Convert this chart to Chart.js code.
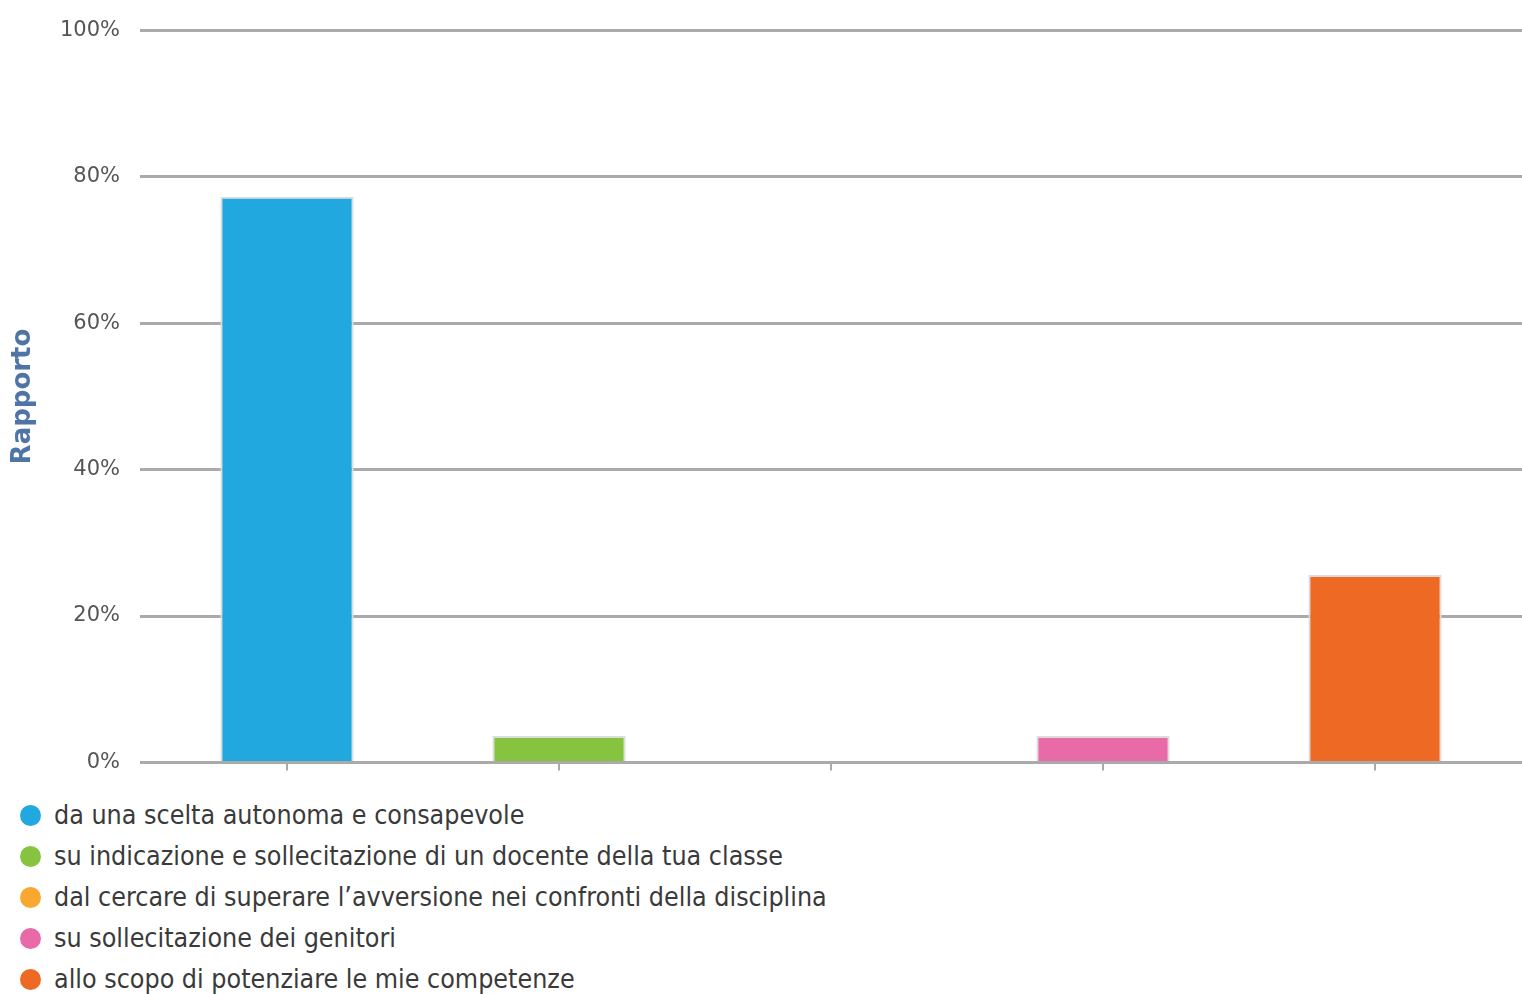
<!DOCTYPE html>
<html>
<head>
<meta charset="utf-8">
<script src="https://cdn.jsdelivr.net/npm/chart.js@4"></script>
<style>
  body { margin: 0; background: #fff; overflow: hidden; }
  #wrap { position: relative; top: -2px; width: 1522px; height: 797px; }
  #legenda { position: absolute; left: 20px; top: 797px; font-family: "DejaVu Sans Condensed", "DejaVu Sans"; font-size: 26.6px; color: #3a3a3a; }
  #legenda div { height: 41px; line-height: 36px; white-space: nowrap; }
  #legenda span.dot { display: inline-block; width: 21px; height: 21px; border-radius: 50%; margin-right: 13px; vertical-align: -2px; }
</style>
</head>
<body>
<div id="wrap"><canvas id="grafico"></canvas></div>
<div id="legenda"></div>
<script>
var categorie = [
  "da una scelta autonoma e consapevole",
  "su indicazione e sollecitazione di un docente della tua classe",
  "dal cercare di superare l\u2019avversione nei confronti della disciplina",
  "su sollecitazione dei genitori",
  "allo scopo di potenziare le mie competenze"
];
var valori = [77.3, 3.6, 0, 3.6, 25.6];
var colori = ["#21a8de", "#86c440", "#f8a830", "#e86aa6", "#ee6a24"];
var tickY = [0, 20, 40, 60, 80, 100];

// prolunga le linee della griglia fino al bordo destro
var estendiGriglia = {
    id: "estendiGriglia",
    beforeDatasetsDraw: function(chart) {
        var c = chart.ctx;
        var y = chart.scales.y;
        var lw = 3;
        c.save();
        c.strokeStyle = "#aaaaaa";
        c.lineWidth = lw;
        tickY.forEach(function(v) {
            // stesso allineamento al pixel usato da Chart.js per la griglia
            var py = Math.round(y.getPixelForValue(v) - lw / 2) + lw / 2;
            c.beginPath();
            c.moveTo(chart.chartArea.right - 1, py);
            c.lineTo(chart.width, py);
            c.stroke();
        });
        c.restore();
    }
};

window.addEventListener("load", function() {

    var ctx = document.getElementById("grafico");

    var grafico = new Chart(ctx, {
        type: 'bar',
        data: {
            labels: categorie,
            datasets: [{
                label: "Rapporto",
                data: valori,
                backgroundColor: colori,
                borderColor: "#dcdcdc",
                borderWidth: 2,
                barPercentage: 0.49,
                categoryPercentage: 1
            }]
        },
        plugins: [estendiGriglia],
        options: {
            responsive: true,
            maintainAspectRatio: false,
            animation: false,
            layout: { padding: { top: 18, right: 11, bottom: 0, left: 0 } },
            plugins: {
                legend: { display: false },
                tooltip: { enabled: false }
            },
            scales: {
                x: {
                    border: { display: false },
                    grid: { display: true, drawOnChartArea: false, drawTicks: true, tickLength: 8, offset: false, color: "#aaaaaa", lineWidth: 2 },
                    ticks: { display: false }
                },
                y: {
                    min: 0,
                    max: 100,
                    afterBuildTicks: function(scale) {
                        scale.ticks = tickY.map(function(v) { return { value: v }; });
                    },
                    afterFit: function(scale) { scale.width = 151; },
                    border: { display: false },
                    grid: { color: "#aaaaaa", lineWidth: 3, drawTicks: true, tickLength: 11 },
                    ticks: {
                        padding: 20,
                        color: "#555555",
                        font: { family: "DejaVu Sans", size: 21 },
                        callback: function(v) { return v + "%"; }
                    },
                    title: {
                        display: true,
                        text: "Rapporto",
                        color: "#4f75a6",
                        font: { family: "DejaVu Sans", size: 26, weight: "bold" },
                        padding: { top: 8, bottom: 10 }
                    }
                }
            }
        }
    });

    var legenda = document.getElementById("legenda");
    categorie.forEach(function(c, i) {
        var riga = document.createElement("div");
        var dot = document.createElement("span");
        dot.className = "dot";
        dot.style.background = colori[i];
        riga.appendChild(dot);
        riga.appendChild(document.createTextNode(c));
        legenda.appendChild(riga);
    });
});
</script>
</body>
</html>
